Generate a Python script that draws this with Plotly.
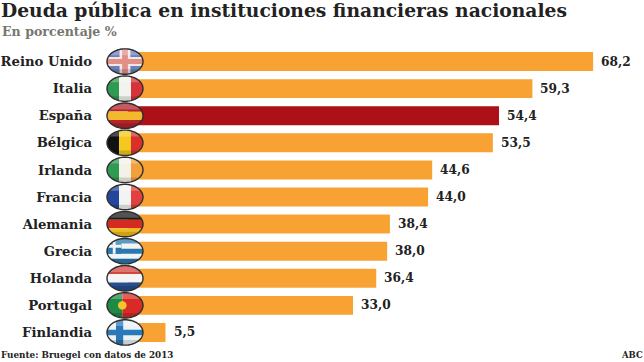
import math
import plotly.graph_objects as go

# ---- data ----
categories = ["Reino Unido", "Italia", "España", "Bélgica", "Irlanda", "Francia",
              "Alemania", "Grecia", "Holanda", "Portugal", "Finlandia"]
values = [68.2, 59.3, 54.4, 53.5, 44.6, 44.0, 38.4, 38.0, 36.4, 33.0, 5.5]
highlight = "España"
title_text = "Deuda pública en instituciones financieras nacionales"
subtitle_text = "En porcentaje %"
source_text = "Fuente: Bruegel con datos de 2013"
credit_text = "ABC"

ORANGE = "#f9a234"
RED = "#ab1116"
SERIF = "'DejaVu Serif', serif"

W, H = 644, 362
L, R = 128, 644
T, B = 47.5, 345.6
RX, RY = 18, 12.7
CX = 125


def rect(x0, y0, x1, y1):
    return [(x0, y0), (x1, y0), (x1, y1), (x0, y1)]


def band(x0, y0, x1, y1, w):
    dx, dy = x1 - x0, y1 - y0
    n = math.hypot(dx, dy)
    ox, oy = -dy / n * w, dx / n * w
    return [(x0 + ox, y0 + oy), (x1 + ox, y1 + oy), (x1 - ox, y1 - oy), (x0 - ox, y0 - oy)]


def vertical(a, b, c):
    return [(a, rect(-1, -1, -1 / 3, 1)), (b, rect(-1 / 3, -1, 1 / 3, 1)), (c, rect(1 / 3, -1, 1, 1))]


def horizontal(a, b, c):
    return [(a, rect(-1, -1, 1, -1 / 3)), (b, rect(-1, -1 / 3, 1, 1 / 3)), (c, rect(-1, 1 / 3, 1, 1))]


def dot(cx, cy, rx, ry):
    return [(cx + rx * math.cos(i * math.pi / 8), cy + ry * math.sin(i * math.pi / 8)) for i in range(16)]


flag_designs = {
    "Reino Unido": [("#6d80b8", rect(-1, -1, 1, 1)),
                    ("#f2e6e6", band(-1, -1, 1, 1, 0.2)), ("#f2e6e6", band(-1, 1, 1, -1, 0.2)),
                    ("#f2e6e6", rect(-0.3, -1, 0.3, 1)), ("#f2e6e6", rect(-1, -0.35, 1, 0.35)),
                    ("#e28f86", rect(-0.16, -1, 0.16, 1)), ("#e28f86", rect(-1, -0.2, 1, 0.2))],
    "Italia": vertical("#2f9a52", "#f2f2ee", "#d6323a"),
    "España": horizontal("#b5232b", "#f2b92e", "#b5232b"),
    "Bélgica": vertical("#111111", "#f5c81e", "#d9302c"),
    "Irlanda": vertical("#2f9a52", "#f4f2e8", "#f4a03a"),
    "Francia": vertical("#24479c", "#f3f3f3", "#e2403f"),
    "Alemania": horizontal("#1a1a1a", "#d32a22", "#f0bd20"),
    "Grecia": [("#f0f4f6", rect(-1, -1, 1, 1)),
               ("#2a78ad", rect(-1, -1, 1, -0.6)), ("#2a78ad", rect(-1, -0.2, 1, 0.2)),
               ("#2a78ad", rect(-1, 0.6, 1, 1)),
               ("#2a78ad", rect(-1, -1, -0.2, 0.2)),
               ("#f0f4f6", rect(-0.68, -1, -0.52, 0.2)), ("#f0f4f6", rect(-1, -0.5, -0.2, -0.28))],
    "Holanda": horizontal("#d3453f", "#f5f5f5", "#274f92"),
    "Portugal": [("#1f8a45", rect(-1, -1, -0.15, 1)), ("#d82a26", rect(-0.15, -1, 1, 1)),
                 ("#f2c52b", dot(-0.15, 0, 0.24, 0.34))],
    "Finlandia": [("#eaf2f6", rect(-1, -1, 1, 1)),
                  ("#2a78b8", rect(-0.5, -1, -0.1, 1)), ("#2a78b8", rect(-1, -0.22, 1, 0.22))],
}


def clip(poly, convex):
    # Sutherland-Hodgman: clip poly by a clockwise-on-screen convex polygon
    out = poly
    for i in range(len(convex)):
        ax, ay = convex[i]
        bx, by = convex[(i + 1) % len(convex)]
        side = lambda p: (bx - ax) * (p[1] - ay) - (by - ay) * (p[0] - ax)
        src, out = out, []
        for j in range(len(src)):
            p, q = src[j], src[(j + 1) % len(src)]
            sp, sq = side(p), side(q)
            if sp >= 0:
                out.append(p)
            if (sp >= 0) != (sq >= 0):
                t = sp / (sp - sq)
                out.append((p[0] + t * (q[0] - p[0]), p[1] + t * (q[1] - p[1])))
        if not out:
            break
    return out


unit = [(math.cos(i * 2 * math.pi / 72), math.sin(i * 2 * math.pi / 72)) for i in range(72)]


def path(poly, cy):
    pts = [((CX + RX * x - L) / (R - L), (B - (cy + RY * y)) / (B - T)) for x, y in poly]
    return "M" + "L".join(f"{x:.4f},{y:.4f}" for x, y in pts) + "Z"


shapes = []
row = (B - T) / len(categories)
for i, name in enumerate(categories):
    cy = T + row * (i + 0.5)
    for color, convex in flag_designs[name]:
        piece = clip(unit, convex)
        if piece:
            shapes.append(dict(type="path", xref="paper", yref="paper", path=path(piece, cy),
                               fillcolor=color, line=dict(width=0), layer="above"))
    # gloss on top, shade at the bottom
    shapes.append(dict(type="path", xref="paper", yref="paper",
                       path=path(clip(unit, rect(-1, -1, 1, -0.5)), cy),
                       fillcolor="rgba(255,255,255,0.25)", line=dict(width=0), layer="above"))
    shapes.append(dict(type="path", xref="paper", yref="paper",
                       path=path(clip(unit, rect(-1, 0.6, 1, 1)), cy),
                       fillcolor="rgba(0,0,0,0.15)", line=dict(width=0), layer="above"))
    shapes.append(dict(type="path", xref="paper", yref="paper", path=path(unit, cy),
                       fillcolor="rgba(0,0,0,0)", line=dict(color="#2e2e2e", width=1.4), layer="above"))

labels = [f"{v:.1f}".replace(".", ",") for v in values]

fig = go.Figure(go.Bar(
    y=categories, x=values, orientation="h",
    marker=dict(color=[RED if c == highlight else ORANGE for c in categories], line=dict(width=0)),
    hoverinfo="skip",
))

annotations = [
    dict(x=v, y=c, xref="x", yref="y", text=t, showarrow=False, xanchor="left", xshift=6,
         font=dict(family=SERIF, size=12.2, color="#222222", weight="bold"))
    for c, v, t in zip(categories, values, labels)
]
annotations += [
    dict(x=0, y=362 - 9, text=title_text, font=dict(family=SERIF, size=18.7, color="#222222", weight="bold"),
         xanchor="left", yanchor="middle"),
    dict(x=1, y=362 - 31, text=subtitle_text, font=dict(family=SERIF, size=12.6, color="#77776f", weight="bold"),
         xanchor="left", yanchor="middle"),
    dict(x=0, y=362 - 355, text=source_text, font=dict(family=SERIF, size=8.8, color="#222222", weight="bold"),
         xanchor="left", yanchor="middle"),
    dict(x=644, y=362 - 355, text=credit_text, font=dict(family=SERIF, size=8.5, color="#222222", weight="bold"),
         xanchor="right", yanchor="middle"),
]
for a in annotations[-4:]:
    a.update(xref="paper", yref="paper", showarrow=False, xshift=0, borderpad=0)
    a["x"] = (a["x"] - L) / (R - L)
    a["y"] = (a["y"] - (H - B)) / (B - T)

fig.update_layout(
    width=W, height=H,
    margin=dict(l=L, r=W - R, t=T, b=H - B),
    paper_bgcolor="white", plot_bgcolor="white",
    showlegend=False, bargap=0.3,
    shapes=shapes, annotations=annotations,
    xaxis=dict(range=[0, (R - L) / 6.82], visible=False, fixedrange=True),
    yaxis=dict(autorange="reversed", showline=False, showgrid=False, ticks="", ticklabelstandoff=35,
               tickfont=dict(family=SERIF, size=13.2, color="#222222", weight="bold"), fixedrange=True),
)
fig.write_html("out.html", config=dict(displayModeBar=False),
               post_script="document.body.style.margin='0';document.body.style.overflow='hidden';window.dispatchEvent(new Event('resize'));")
